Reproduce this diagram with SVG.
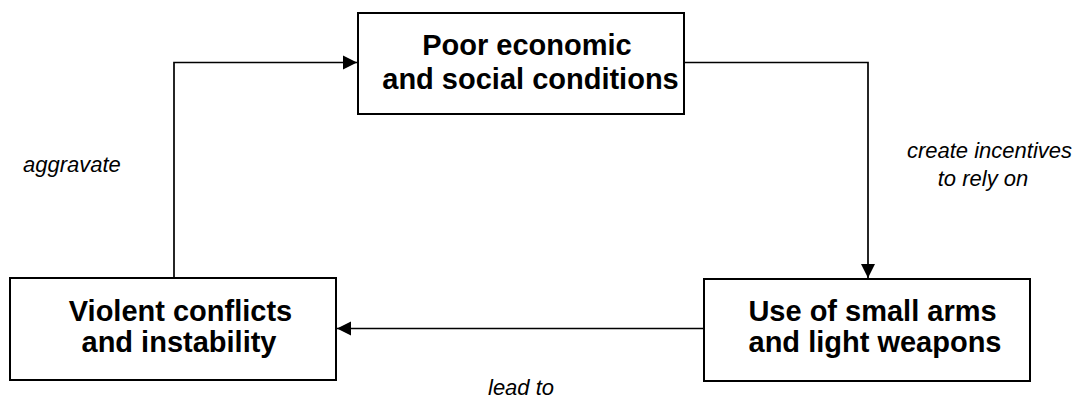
<svg xmlns="http://www.w3.org/2000/svg" width="1076" height="399" viewBox="0 0 1076 399">
<style>
.box{fill:#fff;stroke:#000;stroke-width:2}
.bt{font-family:"Liberation Sans",Arial,sans-serif;font-weight:bold;font-size:29px;fill:#000;text-anchor:middle}
.lb{font-family:"Liberation Sans",Arial,sans-serif;font-style:italic;font-size:22px;fill:#000}
.cn{fill:none;stroke:#000;stroke-width:1.7}
</style>
<defs>
<marker id="arr" markerUnits="userSpaceOnUse" markerWidth="16" markerHeight="16" viewBox="0 0 16 16" refX="15" refY="8" orient="auto">
<path d="M1,1 L15,8 L1,15 Z" fill="#000"/>
</marker>
</defs>
<rect width="1076" height="399" fill="#fff"/>
<g id="connectors">
<path class="cn" d="M174,278 V62.5 H357" marker-end="url(#arr)"/>
<path class="cn" d="M685,62.5 H868 V278" marker-end="url(#arr)"/>
<path class="cn" d="M703,328.5 H337" marker-end="url(#arr)"/>
<text class="lb" x="23" y="172">aggravate</text>
<text class="lb" x="989.5" y="158" text-anchor="middle">create incentives</text>
<text class="lb" x="983" y="186" text-anchor="middle">to rely on</text>
<text class="lb" x="488" y="395">lead to</text>
</g>
<g id="node-poor">
<rect class="box" x="358" y="13" width="326" height="101"/>
<text class="bt" x="527" y="55">Poor economic</text>
<text class="bt" x="530.5" y="89">and social conditions</text>
</g>
<g id="node-violent">
<rect class="box" x="10" y="278" width="326" height="102"/>
<text class="bt" x="180.5" y="321">Violent conflicts</text>
<text class="bt" x="179" y="352">and instability</text>
</g>
<g id="node-arms">
<rect class="box" x="704" y="279" width="326" height="102"/>
<text class="bt" x="872.5" y="321">Use of small arms</text>
<text class="bt" x="875" y="352">and light weapons</text>
</g>
</svg>
